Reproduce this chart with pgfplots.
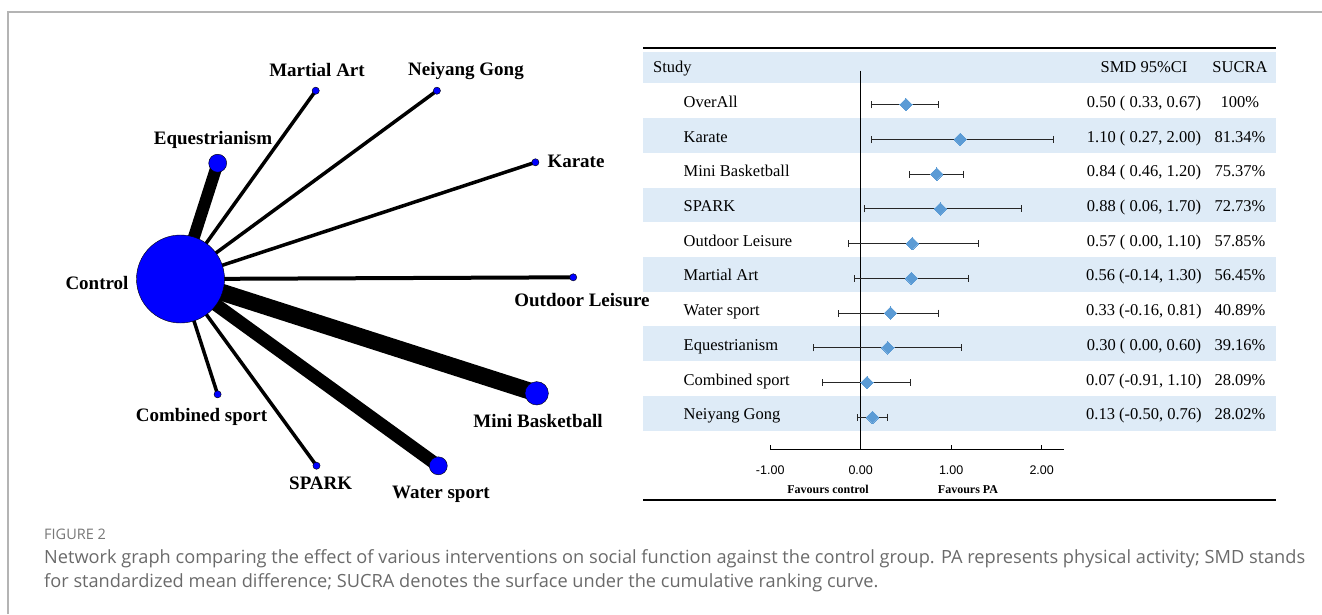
\documentclass[border=0pt]{standalone}
\usepackage{fontspec}
\setmainfont{Liberation Serif}
\newfontfamily\capfont{Open Sans}
\newfontfamily\tickfont{Liberation Sans}
\usepackage{pgfplots}
\pgfplotsset{compat=1.18}
\usepackage{pgfplotstable}
\definecolor{netblue}{HTML}{0000FF}
\definecolor{bandblue}{HTML}{DEEBF7}
\definecolor{diablue}{HTML}{5B9BD5}
\definecolor{framegray}{HTML}{B4B4B4}
\definecolor{capgray}{HTML}{6A6A6A}
\definecolor{capgray2}{HTML}{777777}

% forest plot: row, estimate, CI limits as drawn
\pgfplotstableread{
row est lo hi
1 0.50 0.115 0.86
2 1.10 0.115 2.13
3 0.84 0.54 1.14
4 0.88 0.045 1.78
5 0.57 -0.135 1.30
6 0.56 -0.07 1.19
7 0.33 -0.245 0.86
8 0.30 -0.52 1.115
9 0.07 -0.425 0.55
10 0.13 -0.04 0.30
}\forestdata

\tikzset{
  lab/.style={font=\fontsize{19}{22}\selectfont\bfseries, anchor=base, inner sep=0pt},
  rowtxt/.style={font=\fontsize{16.5}{19}\selectfont, inner sep=0pt},
}

\begin{document}
\begin{tikzpicture}
\path[use as bounding box] (0,0) rectangle (1322pt,614pt);
\begin{axis}[at={(0pt,0pt)}, anchor=south west, scale only axis,
  width=1322pt, height=614pt, xmin=0, xmax=1322, ymin=0, ymax=614,
  y dir=reverse, hide axis, clip=false]
 % frame
 \addplot[framegray, line width=1.3pt] coordinates {(8,614) (8,12) (1322,12)};
 % edges
 \addplot[black, line width=12pt] coordinates {(180.5,279) (217.7,163.2)};
 \addplot[black, line width=3.5pt] coordinates {(180.5,279) (315.7,90.7)};
 \addplot[black, line width=3.5pt] coordinates {(180.5,279) (436.9,90.7)};
 \addplot[black, line width=3.5pt] coordinates {(180.5,279) (535.4,162.3)};
 \addplot[black, line width=4pt] coordinates {(180.5,279) (573.2,277.3)};
 \addplot[black, line width=17pt] coordinates {(180.5,279) (536.7,393.3)};
 \addplot[black, line width=13pt] coordinates {(180.5,279) (438.3,465.8)};
 \addplot[black, line width=3.5pt] coordinates {(180.5,279) (316.5,465.7)};
 \addplot[black, line width=3.5pt] coordinates {(180.5,279) (217.6,394.3)};
 % nodes
 \addplot[only marks, mark=*, mark size=44pt, mark options={draw=none, fill=netblue}] coordinates {(180.5,279)};
 \addplot[only marks, mark=*, mark size=11.7pt, mark options={draw=none, fill=netblue}] coordinates {(536.7,393.3)};
 \addplot[only marks, mark=*, mark size=9pt, mark options={draw=none, fill=netblue}] coordinates {(217.7,163.2) (438.3,465.8)};
 \addplot[only marks, mark=*, mark size=3.6pt, mark options={draw=none, fill=netblue}] coordinates {(315.7,90.7) (436.9,90.7) (535.4,162.3) (573.2,277.3) (316.5,465.7) (217.6,394.3)};
 % labels
 \node[lab] at (axis cs:317,76.7) {Martial Art};
 \node[lab] at (axis cs:466,75) {Neiyang Gong};
 \node[lab] at (axis cs:213,144) {Equestrianism};
 \node[lab] at (axis cs:576,167.4) {Karate};
 \node[lab] at (axis cs:97,289.4) {Control};
 \node[lab] at (axis cs:582,306.7) {Outdoor Leisure};
 \node[lab] at (axis cs:201.5,421) {Combined sport};
 \node[lab] at (axis cs:538,427.4) {Mini Basketball};
 \node[lab] at (axis cs:320.7,489.4) {SPARK};
 \node[lab] at (axis cs:441,498.7) {Water sport};
 % caption
 \node[anchor=base west, inner sep=0pt, font=\capfont\fontsize{14.5}{16}\selectfont, text=capgray2] at (axis cs:44,539) {FIGURE 2};
 \node[anchor=base west, inner sep=0pt, font=\capfont\fontsize{18.2}{20}\selectfont, text=capgray] at (axis cs:44,563.5) {Network graph comparing the effect of various interventions on social function against the control group. PA represents physical activity; SMD stands};
 \node[anchor=base west, inner sep=0pt, font=\capfont\fontsize{18.2}{20}\selectfont, text=capgray] at (axis cs:44,587.5) {for standardized mean difference; SUCRA denotes the surface under the cumulative ranking curve.};
\end{axis}

\begin{axis}[at={(770.2pt,164.7pt)}, anchor=south west, scale only axis,
  width=294.1pt, height=402pt,
  xmin=-1, xmax=2.25, ymin=-0.536, ymax=11.035, y dir=reverse, clip=false,
  axis x line=bottom, axis y line=none,
  axis line style={-, line width=1pt, black},
  xtick={-1,0,1,2}, xticklabels={-1.00,0.00,1.00,2.00},
  tick align=inside, major tick length=4pt,
  xtick style={black, line width=1pt},
  xticklabel style={font=\tickfont\fontsize{12.5}{14}\selectfont, yshift=-13pt},
  ytick=\empty]
 % bands
 \addplot[fill=bandblue, draw=none] coordinates {(-2.405,-0.408) (4.589,-0.408) (4.589,0.5) (-2.405,0.5)} -- cycle;
 \addplot[fill=bandblue, draw=none] coordinates {(-2.405,1.5) (4.589,1.5) (4.589,2.5) (-2.405,2.5)} -- cycle;
 \addplot[fill=bandblue, draw=none] coordinates {(-2.405,3.5) (4.589,3.5) (4.589,4.5) (-2.405,4.5)} -- cycle;
 \addplot[fill=bandblue, draw=none] coordinates {(-2.405,5.5) (4.589,5.5) (4.589,6.5) (-2.405,6.5)} -- cycle;
 \addplot[fill=bandblue, draw=none] coordinates {(-2.405,7.5) (4.589,7.5) (4.589,8.5) (-2.405,8.5)} -- cycle;
 \addplot[fill=bandblue, draw=none] coordinates {(-2.405,9.5) (4.589,9.5) (4.589,10.5) (-2.405,10.5)} -- cycle;
 % rules
 \addplot[black, line width=2pt] coordinates {(-2.405,-0.51) (4.589,-0.51)};
 \addplot[black, line width=2pt] coordinates {(-2.405,12.495) (4.589,12.495)};
 % zero line
 \addplot[black, line width=1pt] coordinates {(0,0.137) (0,11.035)};
 % estimates with CI
 \addplot[only marks, color=diablue, mark=square*, mark size=4.4pt,
   mark options={rotate=45, draw=diablue, fill=diablue, line width=0pt},
   error bars/.cd, x dir=both, x explicit, error mark=|,
   error bar style={black!85, line width=1.1pt},
   error mark options={black!85, mark size=3.6pt, line width=1.1pt, rotate=0}]
   table[x=est, y expr=\thisrow{row}+0.115,
         x error plus expr=\thisrow{hi}-\thisrow{est},
         x error minus expr=\thisrow{est}-\thisrow{lo}] {\forestdata};
 % header
 \node[rowtxt, anchor=base west] at (axis cs:-2.295,0.177) {Study};
 \node[rowtxt, anchor=base] at (axis cs:3.130,0.177) {SMD 95\%CI};
 \node[rowtxt, anchor=base] at (axis cs:4.191,0.177) {SUCRA};
 % rows
 \node[rowtxt, anchor=base west] at (axis cs:-1.958,1.19) {OverAll};
 \node[rowtxt, anchor=base west] at (axis cs:-1.958,2.19) {Karate};
 \node[rowtxt, anchor=base west] at (axis cs:-1.958,3.19) {Mini Basketball};
 \node[rowtxt, anchor=base west] at (axis cs:-1.958,4.19) {SPARK};
 \node[rowtxt, anchor=base west] at (axis cs:-1.958,5.19) {Outdoor Leisure};
 \node[rowtxt, anchor=base west] at (axis cs:-1.958,6.19) {Martial Art};
 \node[rowtxt, anchor=base west] at (axis cs:-1.958,7.19) {Water sport};
 \node[rowtxt, anchor=base west] at (axis cs:-1.958,8.19) {Equestrianism};
 \node[rowtxt, anchor=base west] at (axis cs:-1.958,9.19) {Combined sport};
 \node[rowtxt, anchor=base west] at (axis cs:-1.958,10.19) {Neiyang Gong};
 \node[rowtxt, anchor=base] at (axis cs:3.130,1.19) {0.50 ( 0.33, 0.67)};
 \node[rowtxt, anchor=base] at (axis cs:3.130,2.19) {1.10 ( 0.27, 2.00)};
 \node[rowtxt, anchor=base] at (axis cs:3.130,3.19) {0.84 ( 0.46, 1.20)};
 \node[rowtxt, anchor=base] at (axis cs:3.130,4.19) {0.88 ( 0.06, 1.70)};
 \node[rowtxt, anchor=base] at (axis cs:3.130,5.19) {0.57 ( 0.00, 1.10)};
 \node[rowtxt, anchor=base] at (axis cs:3.130,6.19) {0.56 (-0.14, 1.30)};
 \node[rowtxt, anchor=base] at (axis cs:3.130,7.19) {0.33 (-0.16, 0.81)};
 \node[rowtxt, anchor=base] at (axis cs:3.130,8.19) {0.30 ( 0.00, 0.60)};
 \node[rowtxt, anchor=base] at (axis cs:3.130,9.19) {0.07 (-0.91, 1.10)};
 \node[rowtxt, anchor=base] at (axis cs:3.130,10.19) {0.13 (-0.50, 0.76)};
 \node[rowtxt, anchor=base] at (axis cs:4.191,1.19) {100\%};
 \node[rowtxt, anchor=base] at (axis cs:4.191,2.19) {81.34\%};
 \node[rowtxt, anchor=base] at (axis cs:4.191,3.19) {75.37\%};
 \node[rowtxt, anchor=base] at (axis cs:4.191,4.19) {72.73\%};
 \node[rowtxt, anchor=base] at (axis cs:4.191,5.19) {57.85\%};
 \node[rowtxt, anchor=base] at (axis cs:4.191,6.19) {56.45\%};
 \node[rowtxt, anchor=base] at (axis cs:4.191,7.19) {40.89\%};
 \node[rowtxt, anchor=base] at (axis cs:4.191,8.19) {39.16\%};
 \node[rowtxt, anchor=base] at (axis cs:4.191,9.19) {28.09\%};
 \node[rowtxt, anchor=base] at (axis cs:4.191,10.19) {28.02\%};
 % favours
 \node[font=\fontsize{12}{14}\selectfont\bfseries, anchor=base, inner sep=0pt] at (axis cs:-0.361,12.32) {Favours control};
 \node[font=\fontsize{12}{14}\selectfont\bfseries, anchor=base, inner sep=0pt] at (axis cs:1.186,12.32) {Favours PA};
\end{axis}
\end{tikzpicture}
\end{document}
